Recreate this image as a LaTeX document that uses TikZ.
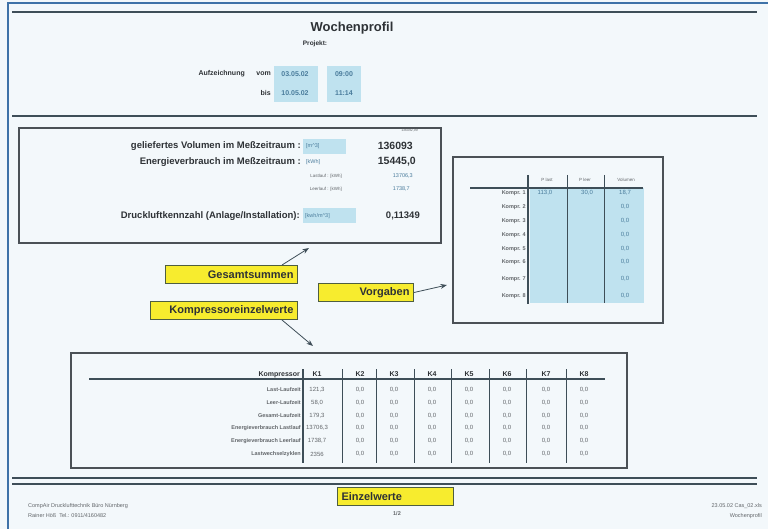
\documentclass[tikz,border=0pt]{standalone}
\usepackage{fontspec}
\setmainfont{Liberation Sans}
\usetikzlibrary{arrows.meta}

\definecolor{paper}{HTML}{F3F8FB}
\definecolor{pageblue}{HTML}{3F72A8}
\definecolor{rulecol}{HTML}{3E4E58}
\definecolor{framecol}{HTML}{4B5156}
\definecolor{fieldcol}{HTML}{BFE2EF}
\definecolor{tagcol}{HTML}{F7EC2E}
\definecolor{tagline}{HTML}{4E5E40}
\definecolor{inkcol}{HTML}{2E3236}
\definecolor{unitcol}{HTML}{4A7C9C}
\definecolor{greycol}{HTML}{62666A}

\begin{document}
\begin{tikzpicture}[
    x=1pt, y=-1pt,
    >=Stealth,
    rule/.style={rulecol, line width=1.6pt},
    frame/.style={rectangle, draw=framecol, line width=2pt, inner sep=0pt, anchor=north west},
    field/.style={fill=fieldcol},
    tag/.style={rectangle, draw=tagline, line width=1pt, fill=tagcol, text=inkcol, font=\fontsize{11}{13}\selectfont\bfseries, inner sep=3pt, anchor=north west, minimum height=18pt},
    pfeil/.style={->, thick, rulecol},
    head/.style={font=\fontsize{7}{8}\selectfont\bfseries, text=inkcol, inner sep=0pt},
    big/.style={font=\fontsize{9.5}{11}\selectfont\bfseries, text=inkcol, inner sep=0pt},
    unit/.style={font=\fontsize{5.5}{6}\selectfont, text=unitcol, inner sep=0pt},
    tiny/.style={font=\fontsize{4.5}{5}\selectfont, text=greycol, inner sep=0pt},
    rowlbl/.style={font=\fontsize{5.5}{6}\selectfont\bfseries, text=greycol, inner sep=0pt, anchor=east},
    cell/.style={font=\fontsize{6}{7}\selectfont, text=greycol, inner sep=0pt},
    sep/.style={rulecol, line width=0.8pt},
    bar/.style={rulecol, line width=2pt}
]
\useasboundingbox (0,0) rectangle (768,529);
\fill[paper] (0,0) rectangle (768,529);
\draw[pageblue, line width=1.5pt] (8,529) |- (768,3);

% rules
\draw[rule] (12,12) -- (757,12);
\draw[rule] (12,116) -- (757,116);
\draw[rule, line width=1.2pt] (12,478) -- (757,478);
\draw[rule, line width=1.2pt] (12,484) -- (757,484);

% header
\node[font=\fontsize{13}{15}\selectfont\bfseries, text=inkcol] (title) at (352,28) {Wochenprofil};
\node[head, font=\fontsize{6.5}{8}\selectfont\bfseries] (projekt) at (315,44) {Projekt:};
\fill[field] (274,66) rectangle (318,102);
\fill[field] (327,66) rectangle (361,102);
\node[head, anchor=east] (aufz) at (245,74) {Aufzeichnung};
\node[head, anchor=east] (vom) at (271,74) {vom};
\node[head, anchor=east] (bis) at (271,93) {bis};
\node[head, text=unitcol] (von-datum) at (295,74) {03.05.02};
\node[head, text=unitcol] (bis-datum) at (295,93) {10.05.02};
\node[head, text=unitcol] (von-zeit) at (344,74) {09:00};
\node[head, text=unitcol] (bis-zeit) at (344,93) {11:14};

% totals box
\node[frame, minimum width=422pt, minimum height=115pt] (summen) at (18,127) {};
\node[tiny, font=\fontsize{3.5}{4}\selectfont, anchor=east] (roh) at (418,131) {136092,99};
\fill[field] (303,139) rectangle (346,154);
\node[big, anchor=east] (vol-lbl) at (301,146) {geliefertes Volumen im Meßzeitraum :};
\node[unit, anchor=west] (vol-unit) at (306,146) {[m\textasciicircum 3]};
\node[big, font=\fontsize{10.5}{12}\selectfont\bfseries, anchor=east] (vol-val) at (413,146) {136093};
\node[big, anchor=east] (en-lbl) at (301,162) {Energieverbrauch im Meßzeitraum :};
\node[unit, anchor=west] (en-unit) at (306,162) {[kWh]};
\node[big, font=\fontsize{10.5}{12}\selectfont\bfseries, anchor=east] (en-val) at (416,162) {15445,0};
\node[tiny, anchor=east] (last-lbl) at (342,176) {Lastlauf : [kWh]};
\node[unit, anchor=east] (last-val) at (413,176) {13706,3};
\node[tiny, anchor=east] (leer-lbl) at (342,189) {Leerlauf : [kWh]};
\node[unit, anchor=east] (leer-val) at (410,189) {1738,7};
\fill[field] (303,208) rectangle (356,223);
\node[big, anchor=east] (kz-lbl) at (300,216) {Druckluftkennzahl (Anlage/Installation):};
\node[unit, anchor=west] (kz-unit) at (305,216) {[kwh/m\textasciicircum 3]};
\node[big, anchor=east] (kz-val) at (420,216) {0,11349};

% presets box
\node[frame, minimum width=210pt, minimum height=166pt] (vorgabe) at (452,156) {};
\fill[field] (530,188) rectangle (644,303);
\draw[bar] (470,188) -- (643,188);
\draw[bar] (528,175) -- (528,304);
\draw[sep] (567,175) -- (567,303);
\draw[sep] (604,175) -- (604,303);
\node[cell, font=\fontsize{4.5}{5}\selectfont] (plast) at (547,180) {P last};
\node[cell, font=\fontsize{4.5}{5}\selectfont] (pleer) at (585,180) {P leer};
\node[cell, font=\fontsize{4.5}{5}\selectfont] (volumen) at (626,180) {Volumen};
\foreach \y [count=\i] in {193,207,221,235,249,262,279,296} {
    \node[rowlbl] (kompr-\i) at (526,\y) {Kompr. \i};
}
\foreach \y [count=\i from 2] in {207,221,235,249,262,279,296} {
    \node[cell, text=unitcol] (kvol-\i) at (625,\y) {0,0};
}
\node[cell, text=unitcol] (kvol-1) at (625,193) {18,7};
\node[cell, text=unitcol] (plast-1) at (545,193) {113,0};
\node[cell, text=unitcol] (pleer-1) at (587,193) {30,0};

% single values box
\node[frame, minimum width=556pt, minimum height=115pt] (einzel) at (70,352) {};
\draw[bar] (89,379) -- (605,379);
\draw[bar] (303,369) -- (303,463);
\foreach \x in {342,376,414,451,489,526,566} {
    \draw[sep] (\x,369) -- (\x,463);
}
\node[head, anchor=east] (kompressor) at (300,375) {Kompressor};
\foreach \x [count=\k] in {317,360,394,432,469,507,546,584} {
    \node[head] (k-\k) at (\x,374) {K\k};
}
\foreach \y/\lbl/\val [count=\r] in {390/Last-Laufzeit/{121,3}, 403/Leer-Laufzeit/{58,0}, 416/Gesamt-Laufzeit/{179,3}, 428/Energieverbrauch Lastlauf/{13706,3}, 441/Energieverbrauch Leerlauf/{1738,7}, 454/Lastwechselzyklen/{2356}} {
    \node[rowlbl] (zeile-\r) at (301,\y) {\lbl};
    \node[cell] (wert-\r-1) at (317,\y) {\val};
    \foreach \x [count=\k from 2] in {360,394,432,469,507,546,584} {
        \node[cell] (wert-\r-\k) at (\x,\y) {0,0};
    }
}

% labels
\node[tag, minimum width=132pt, text width=124pt, align=right] (gesamt) at (165,265) {Gesamtsummen};
\node[tag, minimum width=147pt, text width=139pt, align=right] (kompeinzel) at (150,301) {Kompressoreinzelwerte};
\node[tag, minimum width=95pt, text width=87pt, align=right] (vorg) at (318,283) {Vorgaben};
\node[tag, minimum width=116pt, text width=108pt, align=left] (einzelwerte) at (337,487) {Einzelwerte};

% arrows
\coordinate (gesamt-tip) at (309,248);
\coordinate (komp-tip) at (313,346);
\coordinate (vorg-tip) at (447,285);
\draw[pfeil] ([xshift=-16pt]gesamt.north east) -- (gesamt-tip);
\draw[pfeil] ([xshift=-16pt]kompeinzel.south east) -- (komp-tip);
\draw[pfeil] (vorg.east) -- (vorg-tip);

% footer
\node[tiny, font=\fontsize{5.5}{6}\selectfont, anchor=west] (firma) at (28,506) {CompAir Drucklufttechnik Büro Nürnberg};
\node[tiny, font=\fontsize{5.5}{6}\selectfont, anchor=west] (kontakt) at (28,516) {Rainer Höß \ Tel.: 0911/4160482};
\node[tiny, font=\fontsize{5.5}{6}\selectfont\bfseries] (seite) at (397,514) {1/2};
\node[tiny, font=\fontsize{5.5}{6}\selectfont, anchor=east] (datei) at (762,506) {23.05.02 Cas\_02.xls};
\node[tiny, font=\fontsize{5.5}{6}\selectfont, anchor=east] (blatt) at (762,516) {Wochenprofil};

\end{tikzpicture}
\end{document}
